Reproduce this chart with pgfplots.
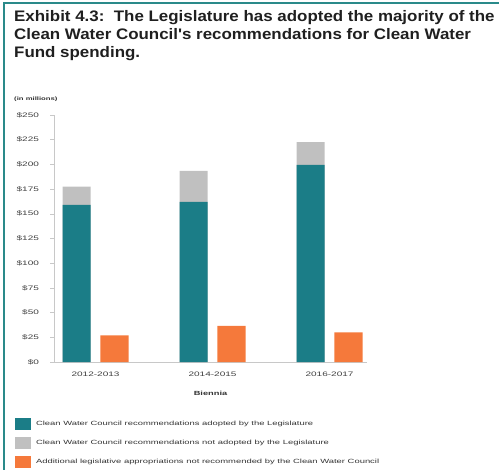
\documentclass[border=0pt]{standalone}
\usepackage{pgfplots}
\pgfplotsset{compat=1.18}
\usepackage{fontspec}
\setmainfont{Liberation Sans}
\newfontfamily\widefont[FakeStretch=1.55]{Liberation Sans}
\newfontfamily\titlefont[FakeStretch=1.11]{Liberation Sans}
\definecolor{cteal}{HTML}{1B7D87}
\definecolor{cgray}{HTML}{C0C0C0}
\definecolor{corange}{HTML}{F5793B}
\definecolor{cframe}{HTML}{2A8A8A}
\definecolor{caxis}{HTML}{C8C8C8}
\begin{document}
\begin{tikzpicture}
\useasboundingbox (0,0) rectangle (499bp,-470bp);
\draw[cframe, line width=2bp] (4bp,-470bp) -- (4bp,-3bp) -- (499bp,-3bp);
\node[anchor=north west, align=left, font=\titlefont\bfseries\fontsize{15.3}{18.3}\selectfont, text=black!88, inner sep=0pt] at (14bp,-10bp)
 {Exhibit 4.3:\ \ The Legislature has adopted the majority of the\\Clean Water Council's recommendations for Clean Water\\Fund spending.};
\node[anchor=west, font=\widefont\bfseries\fontsize{5}{6}\selectfont, text=black!80, inner sep=0pt] at (14bp,-99bp) {(in millions)};
\begin{axis}[
  at={(54bp,-362bp)}, anchor=south west,
  scale only axis, width=313bp, height=247bp,
  xmin=-0.355, xmax=2.32, ymin=0, ymax=250,
  xtick={0,1,2}, xticklabels={2012-2013,2014-2015,2016-2017},
  ytick={0,25,...,250},
  yticklabel={\$\pgfmathprintnumber{\tick}},
  /pgf/number format/assume math mode=true,
  tick label style={font=\widefont\fontsize{6.5}{7}\selectfont, text=black!75},
  xticklabel style={yshift=-3bp},
  yticklabel style={xshift=-8bp},
  axis x line*=bottom, axis y line*=left,
  x axis line style={caxis, line width=1bp},
  y axis line style={caxis, line width=0.8bp},
  xtick style={draw=none},
  ytick style={caxis, line width=0.6bp},
  tick align=outside, major tick length=3.5bp,
  xlabel={\widefont\bfseries\fontsize{6}{7}\selectfont Biennia},
  xlabel style={yshift=-8bp, text=black!80},
  ybar, bar width=0.24,
  legend style={at={(-0.125,-0.225)}, anchor=north west, draw=none, fill=none,
    font=\widefont\fontsize{6.1}{7}\selectfont, text=black!80,
    row sep=6.5bp, inner sep=0pt, cells={anchor=west}},
  legend cell align=left,
  legend image code/.code={\fill[#1] (0bp,-6bp) rectangle (16bp,6.5bp);},
  legend style={nodes={inner xsep=5bp}},
]
\addlegendimage{fill=cteal, draw=none}
\addlegendentry{Clean Water Council recommendations adopted by the Legislature}
\addlegendimage{fill=cgray, draw=none}
\addlegendentry{Clean Water Council recommendations not adopted by the Legislature}
\addlegendimage{fill=corange, draw=none}
\addlegendentry{Additional legislative appropriations not recommended by the Clean Water Council}
% total recommended (adopted + not adopted)
\addplot[fill=cgray, draw=none, bar shift=-0.162, forget plot] coordinates {(0,177.5) (1,193.5) (2,222.5)};
% adopted
\addplot[fill=cteal, draw=none, bar shift=-0.162, forget plot] coordinates {(0,159) (1,162) (2,199.5)};
% additional
\addplot[fill=corange, draw=none, bar shift=0.162, forget plot] coordinates {(0,27) (1,36.5) (2,30)};
\end{axis}
\end{tikzpicture}
\end{document}
